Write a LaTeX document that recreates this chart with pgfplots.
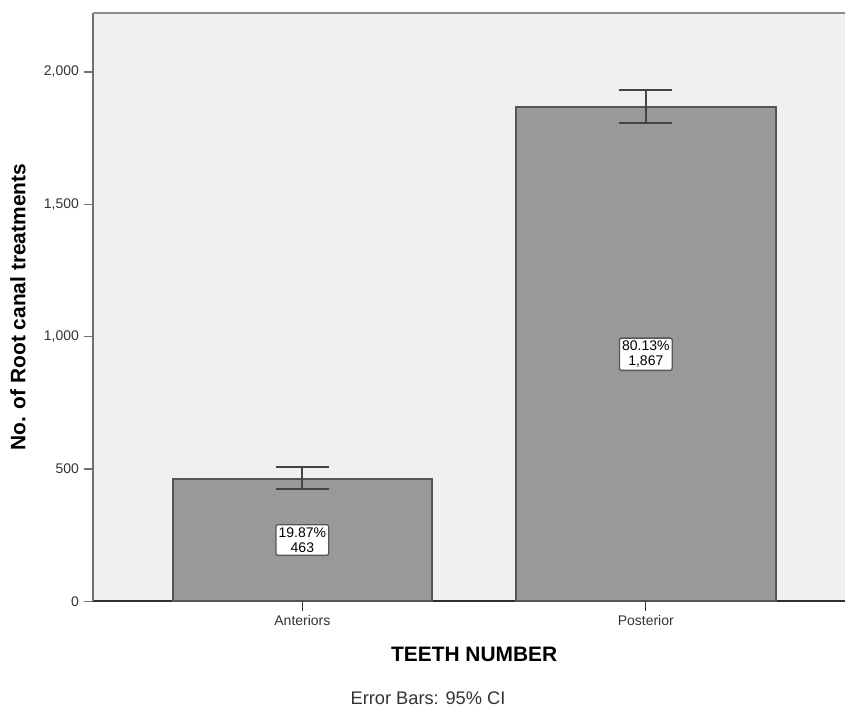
\documentclass[border=0pt]{standalone}
\usepackage{pgfplots}
\usepackage{pgfplotstable}
\pgfplotsset{compat=1.18}
\usepackage{fontspec}
\setmainfont{Liberation Sans}

\definecolor{bgcol}{HTML}{F0F0F0}
\definecolor{barfill}{HTML}{999999}
\definecolor{baredge}{HTML}{555555}
\definecolor{errcol}{HTML}{444444}
\definecolor{leftcol}{HTML}{707070}
\definecolor{topcol}{HTML}{8C8C8C}
\definecolor{bottomcol}{HTML}{303030}
\definecolor{tickcol}{HTML}{333333}

% Root canal treatments by tooth group, with 95% CI limits
\pgfplotstableread{
x  y     ep  em
0  463   43  37
1  1867  65  59
}\counts

\begin{document}
\begin{tikzpicture}
\begin{axis}[
  scale only axis,
  width=564.75pt, height=441.75pt,
  xmin=-0.61, xmax=1.58,
  ymin=0, ymax=2223,
  clip=false,
  axis background/.style={fill=bgcol},
  axis lines*=left,
  axis line style={-},
  x axis line style={draw=bottomcol, line width=1.5pt},
  y axis line style={draw=leftcol, line width=1.5pt},
  tick align=outside,
  major tick length=7pt,
  xtick={0,1},
  xticklabels={Anteriors,Posterior},
  ytick={0,500,1000,1500,2000},
  x tick style={draw=bottomcol, line width=1pt},
  y tick style={draw=leftcol, line width=1pt},
  ticklabel style={font=\fontsize{10.5}{12}\selectfont, text=tickcol},
  /pgf/number format/.cd, 1000 sep={,}, assume math mode=true,
  /pgfplots/.cd,
  xlabel={TEETH NUMBER},
  ylabel={No. of Root canal treatments},
  xlabel style={font=\bfseries\fontsize{15.7}{18}\selectfont,
    at={(rel axis cs:0.507,-0.0908)}, anchor=center},
  ylabel style={font=\bfseries\fontsize{15.7}{18}\selectfont,
    at={(rel axis cs:-0.0996,0.5)}, anchor=center},
]
  % bars with 95% confidence interval whiskers
  \addplot[ybar, bar width=0.756, fill=barfill, draw=baredge, line width=1.5pt,
    error bars/.cd, y dir=both, y explicit,
    error bar style={draw=errcol, line width=1.5pt},
    error mark options={rotate=90, mark size=20pt, draw=errcol, line width=1.5pt}]
    table[x=x, y=y, y error plus=ep, y error minus=em]{\counts};

  % percentage and count labels at mid height of each bar
  \addplot[only marks, mark=none, point meta=explicit symbolic,
    nodes near coords,
    nodes near coords align={center},
    every node near coord/.append style={align=center, fill=white,
      draw=baredge, line width=1pt, rounded corners=1.5pt, inner sep=2pt,
      font=\fontsize{10.5}{11.5}\selectfont, text=black}]
    coordinates {(0,231.5) [{19.87\%\\463}] (1,933.5) [{80.13\%\\1,867}]};

  % upper frame line
  \draw[topcol, line width=1.5pt] (rel axis cs:0,1) -- (rel axis cs:1,1);

  % footnote on the whiskers
  \node[font=\fontsize{13.7}{16}\selectfont, text=tickcol]
    at (rel axis cs:0.4456,-0.1655) {Error Bars: 95\% CI};

  % page extent
  \path (rel axis cs:-0.1235,-0.1817) (rel axis cs:1,1.0221);
\end{axis}
\end{tikzpicture}
\end{document}
